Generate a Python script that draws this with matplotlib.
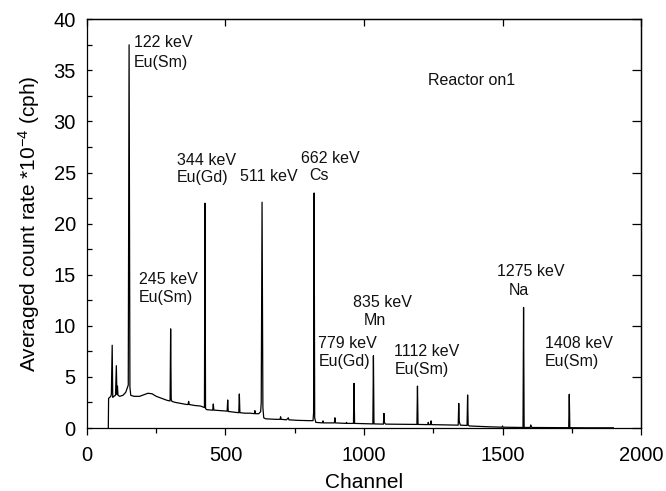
import matplotlib
matplotlib.use("Agg")
import matplotlib.pyplot as plt
from matplotlib.ticker import MultipleLocator

plt.rcParams["font.family"] = ["Liberation Sans", "DejaVu Sans"]
plt.rcParams["mathtext.fontset"] = "custom"
plt.rcParams["mathtext.rm"] = "Liberation Sans"
plt.rcParams["mathtext.it"] = "Liberation Sans:italic"
plt.rcParams["mathtext.default"] = "regular"

# Spectrum vertices: channel and averaged count rate (*10^-4 cph)
channel = [
    77, 78, 86, 88, 91, 93, 97, 103, 106, 108, 110, 112, 118, 130, 140, 145,
    149, 152, 155, 158, 170, 190, 205, 220, 235, 250, 270, 290, 300, 302, 304,
    307, 320, 340, 360, 365, 367, 369, 390, 410, 420, 424, 426, 428, 432, 450,
    454, 456, 458, 480, 500, 506, 508, 510, 530, 546, 548, 550, 552, 570, 590,
    604, 606, 608, 620, 627, 629, 632, 635, 638, 645, 680, 697, 699, 701, 720,
    727, 729, 760, 800, 816, 818, 820, 822, 826, 850, 852, 854, 880, 893, 895,
    897, 935, 937, 939, 962, 964, 966, 1000, 1032, 1034, 1036, 1070, 1072,
    1074, 1078, 1120, 1140, 1160, 1191, 1193, 1195, 1230, 1232, 1234, 1240,
    1242, 1244, 1300, 1340, 1342, 1344, 1348, 1372, 1374, 1376, 1380, 1450,
    1498, 1500, 1502, 1560, 1574, 1576, 1578, 1600, 1602, 1606, 1700, 1739,
    1741, 1743, 1800, 1900,
]
rate = [
    0.0, 2.9, 3.1, 3.3, 8.1, 3.0, 3.1, 3.2, 6.1, 3.3, 4.1, 3.2, 3.1, 3.2, 3.5,
    3.9, 4.2, 37.5, 4.0, 3.2, 3.1, 3.1, 3.25, 3.4, 3.35, 3.1, 2.9, 2.7, 2.65,
    9.7, 2.8, 2.6, 2.5, 2.4, 2.3, 2.3, 2.6, 2.3, 2.2, 2.15, 2.05, 2.0, 22.0,
    1.9, 1.8, 1.75, 1.75, 2.35, 1.75, 1.7, 1.65, 1.65, 2.74, 1.62, 1.55, 1.5,
    1.5, 3.33, 1.5, 1.45, 1.45, 1.4, 1.7, 1.4, 1.4, 1.6, 2.5, 22.1, 2.0, 1.0,
    0.9, 0.85, 0.85, 1.1, 0.85, 0.8, 1.0, 0.8, 0.75, 0.72, 0.72, 1.5, 23.0,
    1.0, 0.55, 0.5, 0.7, 0.5, 0.5, 0.5, 1.0, 0.5, 0.45, 0.55, 0.45, 0.45,
    4.37, 0.45, 0.42, 0.4, 7.07, 0.4, 0.38, 1.43, 0.5, 0.38, 0.37, 0.37, 0.36,
    0.35, 4.1, 0.35, 0.33, 0.55, 0.33, 0.33, 0.7, 0.33, 0.3, 0.28, 2.41, 0.6,
    0.28, 0.25, 3.23, 0.3, 0.2, 0.12, 0.08, 0.2, 0.08, 0.05, 0.05, 11.8, 0.05,
    0.05, 0.3, 0.05, 0.03, 0.03, 3.3, 0.03, 0.02, 0.02,
]

# Peak annotations: text, channel of left edge, vertical centre
peak_text = ["122 keV", "Eu(Sm)", "344 keV", "Eu(Gd)", "511 keV", "662 keV",
             "Cs", "245 keV", "Eu(Sm)", "779 keV", "Eu(Gd)", "835 keV", "Mn",
             "1112 keV", "Eu(Sm)", "1275 keV", "Na", "1408 keV", "Eu(Sm)"]
peak_text_x = [170, 170, 324, 324, 552, 773, 802, 188, 188, 835, 835, 960,
               1000, 1110, 1110, 1479, 1523, 1653, 1653]
peak_text_y = [37.7, 35.8, 26.2, 24.5, 24.6, 26.4, 24.7, 14.5, 12.75, 8.3,
               6.5, 12.26, 10.5, 7.47, 5.7, 15.3, 13.5, 8.3, 6.5]

x_ticks = [0, 500, 1000, 1500, 2000]
y_ticks = [0, 5, 10, 15, 20, 25, 30, 35, 40]

fig = plt.figure(figsize=(6.66, 4.91), dpi=100)
ax = fig.add_axes([0.1306, 0.1283, 0.8319, 0.8324])

ax.plot(channel, rate, color="black", lw=0.9)

for t, x, y in zip(peak_text, peak_text_x, peak_text_y):
    ax.text(x, y, t, fontsize=11.5, ha="left", va="center", color="#111111")

ax.text(1232, 34.05, "Reactor on1", fontsize=11.5, ha="left", va="center",
        color="#111111")

ax.set_xlim(0, 2000)
ax.set_ylim(0, 40)
ax.set_xticks(x_ticks)
ax.set_yticks(y_ticks)
ax.xaxis.set_minor_locator(MultipleLocator(250))
ax.yaxis.set_minor_locator(MultipleLocator(2.5))

ax.tick_params(axis="x", which="major", direction="out", length=5, width=0.9,
               labelsize=14.5, pad=8, top=False)
ax.tick_params(axis="x", which="minor", direction="out", length=3.6, width=0.9,
               top=False)
ax.tick_params(axis="y", which="major", direction="in", length=3.6, width=0.9,
               labelsize=14.5, pad=8, right=False)
ax.tick_params(axis="y", which="minor", direction="in", length=3.6, width=0.9,
               right=False)

# Mirrored major ticks on the top and right spines
top = ax.secondary_xaxis("top")
top.set_xticks(x_ticks)
top.tick_params(direction="in", length=5, width=0.9, labeltop=False)
right = ax.secondary_yaxis("right")
right.set_yticks(y_ticks)
right.tick_params(direction="in", length=6.5, width=0.9, labelright=False)

for s in ax.spines.values():
    s.set_linewidth(0.9)
top.spines["top"].set_linewidth(0.9)
right.spines["right"].set_linewidth(0.9)

ax.set_xlabel("Channel", fontsize=15, labelpad=6)
ax.set_ylabel("Averaged count rate *10$^{-4}$ (cph)", fontsize=15, labelpad=8)

fig.savefig("out.png", dpi=100)
